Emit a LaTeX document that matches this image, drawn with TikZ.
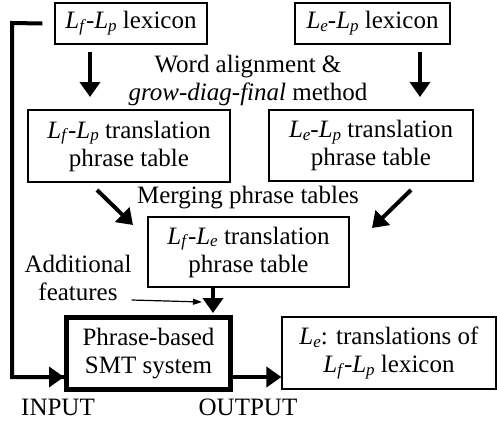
\documentclass[tikz,border=0pt]{standalone}
\usepackage{fontspec}
\setmainfont{Liberation Serif}
\usetikzlibrary{arrows.meta}
\newcommand{\Lsub}[1]{\textit{L}\raisebox{-0.25ex}{\fontsize{17}{17}\selectfont\textit{#1}}}
\tikzset{
  box/.style={draw, line width=1.2pt, inner sep=0pt, align=center, font=\fontsize{25}{28}\selectfont},
  lbl/.style={inner sep=0pt, align=center, font=\fontsize{25}{28}\selectfont},
  thick arrow/.style={line width=4pt, -{Triangle[length=15pt,width=20pt]}},
  thin arrow/.style={line width=1.2pt, -{Triangle[length=9pt,width=6pt]}}
}
\begin{document}
\begin{tikzpicture}[x=1pt,y=-1pt]
\useasboundingbox (0,0) rectangle (497,421);
\node[box, minimum width=152pt, minimum height=41pt] (lfp) at (131,23.5) {\Lsub{f}-\Lsub{p} lexicon};
\node[box, minimum width=155pt, minimum height=41pt] (lep) at (372.5,23.5) {\Lsub{e}-\Lsub{p} lexicon};
\node[lbl] (wa) at (248,80) {Word alignment \&\\\textit{grow-diag-final} method};
\node[box, minimum width=202pt, minimum height=72pt] (tfp) at (129,146) {\Lsub{f}-\Lsub{p} translation\\phrase table};
\node[box, minimum width=204pt, minimum height=71pt] (tep) at (371,145.5) {\Lsub{e}-\Lsub{p} translation\\phrase table};
\node[lbl] (merge) at (248,198) {Merging phrase tables};
\node[box, minimum width=201pt, minimum height=70pt] (tfe) at (248.5,252) {\Lsub{f}-\Lsub{e} translation\\phrase table};
\node[lbl] (feat) at (78,278) {Additional\\features};
\node[box, line width=5pt, minimum width=164pt, minimum height=72pt] (smt) at (148.5,353.5) {Phrase-based\\SMT system};
\node[box, minimum width=214pt, minimum height=72pt] (out) at (389,353) {\Lsub{e}: translations of\\\Lsub{f}-\Lsub{p} lexicon};
\node[lbl] (inp) at (58,407) {INPUT};
\node[lbl] (outp) at (248,407) {OUTPUT};
\coordinate (corner1) at (12,23);
\coordinate (corner2) at (12,377);
\coordinate (fe) at (202,302);
% arrows
\draw[thick arrow] (90,52) -- (90,97);
\draw[thick arrow] (420,52) -- (420,97);
\draw[thick arrow] (97,190) -- (133,225);
\draw[thick arrow] (411,190) -- (372,228);
\draw[thick arrow] (213,287) -- (213,313);
\draw[thin arrow] (feat.east |- 0,300) -- (fe);
\draw[line width=4pt] (lfp.west) ++(-12,0) -- (corner1) -- (corner2) -- (smt.west |- corner2);
\draw[thick arrow] (40,377) -- (smt.west |- corner2);
\draw[thick arrow] (smt.east |- 0,377) -- (out.west |- 0,377);
\end{tikzpicture}
\end{document}
